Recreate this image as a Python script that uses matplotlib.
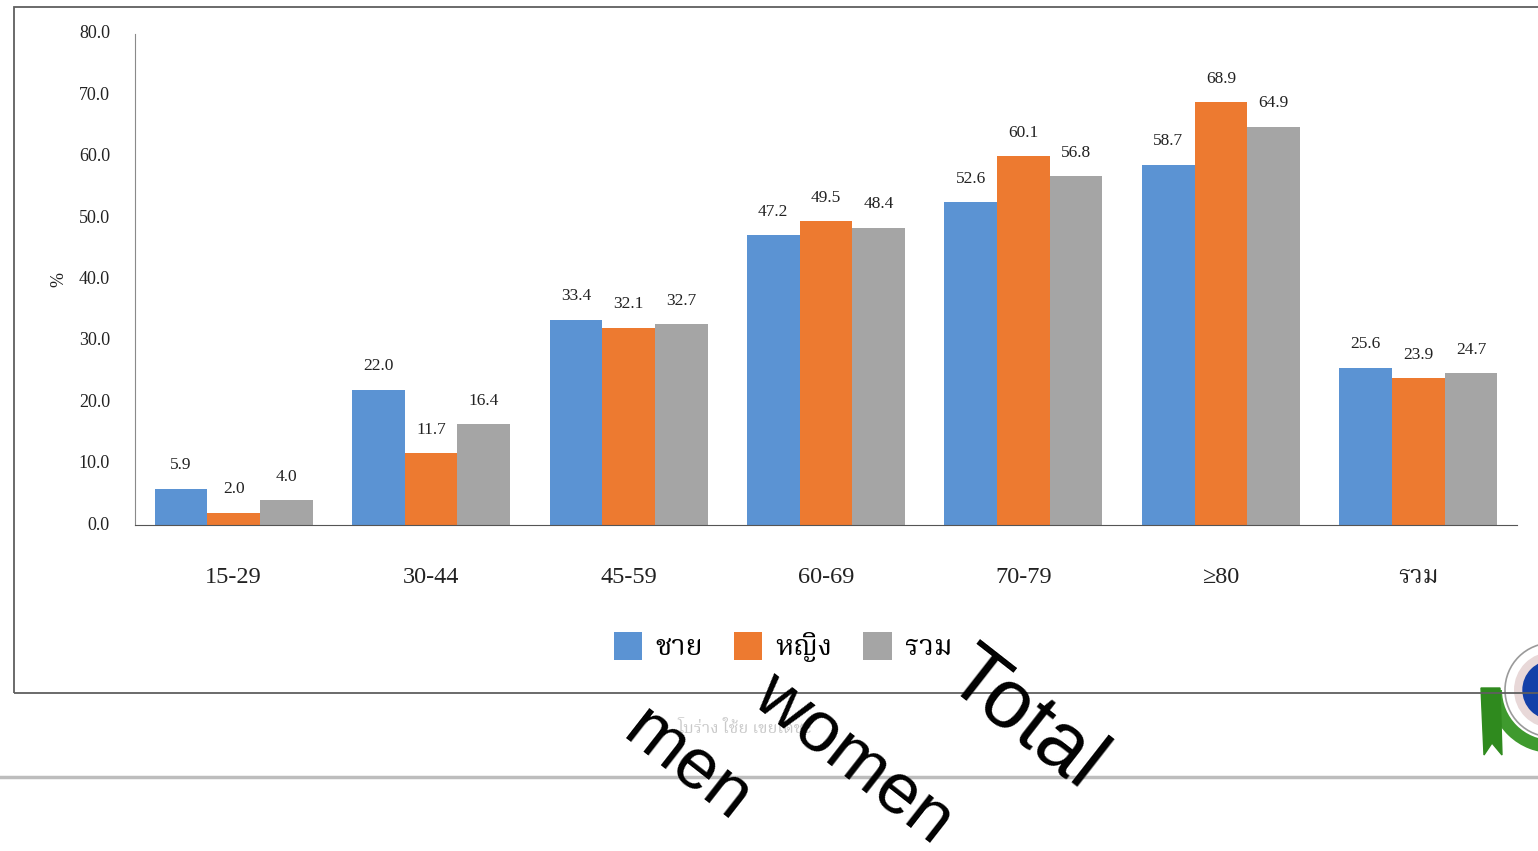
import matplotlib
matplotlib.use("Agg")
import matplotlib.pyplot as plt
import numpy as np
import logging
from matplotlib.patches import Rectangle, Circle, Polygon, Wedge
from matplotlib.lines import Line2D
from matplotlib.transforms import ScaledTranslation

logging.getLogger('matplotlib.font_manager').setLevel(logging.ERROR)

W, H = 1538, 851
SERIF = ['Liberation Serif', 'Noto Serif Thai', 'Taviraj', 'Trirong', 'Athiti', 'DejaVu Sans']

categories = ['15-29', '30-44', '45-59', '60-69', '70-79', '≥80', 'รวม']
men = [5.9, 22.0, 33.4, 47.2, 52.6, 58.7, 25.6]
women = [2.0, 11.7, 32.1, 49.5, 60.1, 68.9, 23.9]
total = [4.0, 16.4, 32.7, 48.4, 56.8, 64.9, 24.7]
series_names = ['ชาย', 'หญิง', 'รวม']
series_colors = ['#5B93D3', '#ED7A30', '#A5A5A5']
yticks = [0, 10, 20, 30, 40, 50, 60, 70, 80]

plt.rcParams['font.family'] = SERIF
fig = plt.figure(figsize=(W / 100, H / 100), dpi=100, facecolor='white')


def fx(x):
    return x / W


def fy(y):
    return 1 - y / H


# outer chart frame and bottom rule
fig.add_artist(Rectangle((fx(14), fy(693)), fx(1540 - 14), (693 - 7) / H, fill=False,
                         ec='#5f5f5f', lw=1.3, transform=fig.transFigure))
fig.add_artist(Line2D([0, 1], [fy(776.5), fy(776.5)], color='#bdbdbd', lw=2.5,
                      transform=fig.transFigure))

ax = fig.add_axes([fx(135), fy(525), fx(1517 - 135), (525 - 34) / H])
ax.set_facecolor('none')
x = np.arange(len(categories))
bw = 0.267
for i, (vals, name, col) in enumerate(zip([men, women, total], series_names, series_colors)):
    pos = x + (i - 1) * bw
    ax.bar(pos, vals, bw, color=col, label=name)
    for p, v in zip(pos, vals):
        ax.annotate(f'{v:.1f}', (p, v), xytext=(0, 17), textcoords='offset points',
                    ha='center', va='center', fontsize=12.5, color='#222222')

ax.set_xlim(-0.5, len(categories) - 0.5)
ax.set_ylim(0, 80)
ax.set_yticks(yticks)
ax.set_yticklabels([f'{t:.1f}' for t in yticks], fontsize=13, color='#222222')
ax.set_xticks(x)
ax.set_xticklabels(categories, fontsize=17.5, color='#222222')
ax.tick_params(axis='x', length=0, pad=30)
ax.tick_params(axis='y', length=0, pad=18)
ax.set_ylabel('%', fontsize=13, color='#222222', labelpad=8.5)
ax.spines[['top', 'right']].set_visible(False)
ax.spines['left'].set_color('#8a8a8a')
ax.spines['bottom'].set_color('#555555')
shift_up = ScaledTranslation(0, 2 / 100, fig.dpi_scale_trans)
for lab in ax.get_yticklabels():
    lab.set_transform(lab.get_transform() + shift_up)

fig.legend(*ax.get_legend_handles_labels(), ncol=3, frameon=False, fontsize=20.5,
           loc='center', bbox_to_anchor=(fx(783), fy(647)), handlelength=1.0,
           handleheight=1.15, handletextpad=0.45, columnspacing=1.1)

# faint presenter line
fig.text(fx(745), fy(729), 'โบร่าง ใช้ย เขยเดชะ', fontsize=12, color='#c9c9c9',
         ha='center', va='center')

# rotated overlay words
for word, cx, cy, fs in [('men', 686, 766, 52), ('women', 853, 760, 52), ('Total', 1025, 720, 60)]:
    fig.text(fx(cx), fy(cy), word, fontsize=fs, rotation=-38, rotation_mode='anchor',
             ha='center', va='center', color='black', family='Liberation Sans')

# seal at right edge
sx = fig.add_axes([0, 0, 1, 1], facecolor='none')
sx.set_xlim(0, W)
sx.set_ylim(H, 0)
sx.axis('off')
sx.add_patch(Wedge((1552, 690), 63, 88, 180, color='#3f9a2e', ec='none'))
sx.add_patch(Circle((1552, 690), 50, fc='white', ec='none'))
sx.add_patch(Circle((1552, 690), 47, fc='white', ec='#9a9a9a', lw=1.2))
sx.add_patch(Circle((1552, 690), 38, fc='#e8d8d8', ec='none'))
sx.add_patch(Circle((1552, 690), 29, color='#1440a8'))
sx.add_patch(Polygon([(1481, 688), (1500, 688), (1502, 755), (1492, 743), (1484, 755)],
                     color='#2f8a1e'))

fig.savefig('out.png', dpi=100)
